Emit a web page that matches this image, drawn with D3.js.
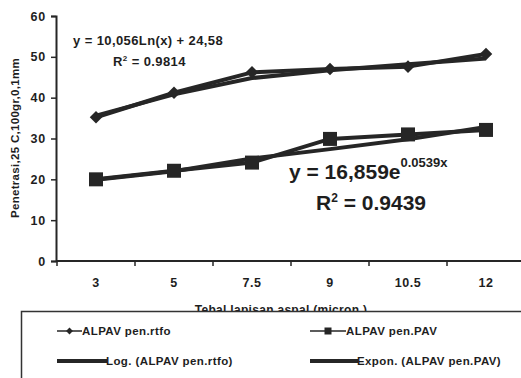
<!DOCTYPE html>
<html>
<head>
<meta charset="utf-8">
<script src="https://cdn.jsdelivr.net/npm/d3@7"></script>
<style>
  body { margin: 0; background: #fff; }
  svg text { font-family: "Liberation Sans", Arial, sans-serif; font-weight: bold; fill: #1e1e1e; }
</style>
</head>
<body>
<svg id="chart" width="521" height="378"></svg>
<script>
// values
var categories = ["3", "5", "7.5", "9", "10.5", "12"];
var penRtfo = [35.2, 41.2, 46.2, 47.0, 47.6, 50.7];
var penPav = [20.0, 22.1, 24.1, 29.9, 31.0, 32.1];
var logTrend = [35.6, 40.8, 44.8, 46.7, 48.2, 49.6];
var expTrend = [19.9, 22.0, 25.1, 27.4, 29.8, 32.8];
var yTicks = [0, 10, 20, 30, 40, 50, 60];

var logEq = "y = 10,056Ln(x) + 24,58";
var logR2 = "0.9814";
var expEq = "y = 16,859e";
var expExp = "0.0539x";
var expR2 = "0.9439";

var yTitle = "Penetrasi,25 C,100gr,0,1mm";
var xTitle = "Tebal lapisan aspal (micron )";
var legendNames = ["ALPAV pen.rtfo", "ALPAV pen.PAV", "Log. (ALPAV pen.rtfo)", "Expon. (ALPAV pen.PAV)"];

var ink = "#262626";
var svg = d3.select("#chart");

var x = d3.scaleBand().domain(categories).range([57, 525]);
var y = d3.scaleLinear().domain([0, 60]).range([261, 16]);
var cx = function (c) { return x(c) + x.bandwidth() / 2; };

// y axis
var yAxis = svg.append("g")
  .attr("transform", "translate(56,0)")
  .call(d3.axisLeft(y).tickValues(yTicks).tickSize(5).tickPadding(5));
yAxis.select(".domain").attr("stroke", ink).attr("stroke-width", 2);
yAxis.selectAll(".tick line").attr("stroke", ink).attr("stroke-width", 1.5);
yAxis.selectAll(".tick text").style("font-size", "12.5px").attr("letter-spacing", "0.8px").attr("fill", ink);

// x axis: ticks on category boundaries, labels at centres
var xg = svg.append("g");
xg.append("line")
  .attr("x1", 56).attr("x2", 521)
  .attr("y1", y(0)).attr("y2", y(0))
  .attr("stroke", ink).attr("stroke-width", 2);
xg.selectAll(".xt")
  .data(categories)
  .enter()
  .append("line")
  .attr("x1", (d) => x(d)).attr("x2", (d) => x(d))
  .attr("y1", y(0)).attr("y2", y(0) + 5)
  .attr("stroke", ink).attr("stroke-width", 1.5);
xg.selectAll(".xl")
  .data(categories)
  .enter()
  .append("text")
  .attr("x", (d) => cx(d))
  .attr("y", 287)
  .attr("text-anchor", "middle")
  .style("font-size", "12.5px")
  .attr("letter-spacing", "0.5px")
  .text((d) => d);

// axis titles
svg.append("text")
  .attr("transform", "translate(19,138) rotate(-90)")
  .attr("text-anchor", "middle")
  .style("font-size", "11.5px")
  .attr("letter-spacing", "0.3px")
  .text(yTitle);

svg.append("text")
  .attr("x", 281).attr("y", 314)
  .attr("text-anchor", "middle")
  .style("font-size", "12px")
  .attr("letter-spacing", "0.3px")
  .text(xTitle);

// lines
var line = function (vals) {
  return d3.line()
    .x((d, i) => cx(categories[i]))
    .y((d) => y(d))(vals);
};

var plot = svg.append("g");
[penRtfo, penPav, logTrend, expTrend].forEach(function (vals) {
  plot.append("path")
    .attr("d", line(vals))
    .attr("fill", "none")
    .attr("stroke", ink)
    .attr("stroke-width", 4)
    .attr("stroke-linejoin", "round");
});

// markers
plot.selectAll(".dia")
  .data(penRtfo)
  .enter()
  .append("path")
  .attr("d", d3.symbol(d3.symbolDiamond2, 100))
  .attr("transform", (d, i) => "translate(" + cx(categories[i]) + "," + y(d) + ")")
  .attr("fill", ink);

plot.selectAll(".sq")
  .data(penPav)
  .enter()
  .append("rect")
  .attr("x", (d, i) => cx(categories[i]) - 7)
  .attr("y", (d) => y(d) - 7)
  .attr("width", 14).attr("height", 14)
  .attr("fill", ink);

// trend annotations
svg.append("text").attr("x", 73).attr("y", 45).style("font-size", "13px").attr("letter-spacing", "0.4px").text(logEq);
var r1 = svg.append("text").attr("x", 113).attr("y", 66).style("font-size", "13px").attr("letter-spacing", "0.4px");
r1.append("tspan").text("R");
r1.append("tspan").attr("dy", -5).style("font-size", "8px").text("2");
r1.append("tspan").attr("dy", 5).text(" = " + logR2);

var e1 = svg.append("text").attr("x", 289).attr("y", 179).style("font-size", "21px");
e1.append("tspan").text(expEq);
e1.append("tspan").attr("dy", -12).style("font-size", "13px").text(expExp);
var r2 = svg.append("text").attr("x", 316).attr("y", 210).style("font-size", "21px");
r2.append("tspan").text("R");
r2.append("tspan").attr("dy", -8).style("font-size", "12px").text("2");
r2.append("tspan").attr("dy", 8).text(" = " + expR2);

// legend
var lg = svg.append("g");
lg.append("rect")
  .attr("x", 21.5).attr("y", 311.5)
  .attr("width", 520).attr("height", 90)
  .attr("fill", "#fff")
  .attr("stroke", "#333").attr("stroke-width", 1.5);

var legendItems = [
  { name: legendNames[0], x0: 57, x1: 82, y: 331, w: 1.5, mark: "diamond", tx: 82 },
  { name: legendNames[1], x0: 310, x1: 346, y: 331, w: 1.5, mark: "square", tx: 346 },
  { name: legendNames[2], x0: 57, x1: 107, y: 361, w: 4, mark: null, tx: 106 },
  { name: legendNames[3], x0: 310, x1: 358, y: 361, w: 4, mark: null, tx: 357 }
];
legendItems.forEach(function (d) {
  lg.append("line")
    .attr("x1", d.x0).attr("x2", d.x1)
    .attr("y1", d.y).attr("y2", d.y)
    .attr("stroke", ink).attr("stroke-width", d.w);
  if (d.mark == "diamond") {
    lg.append("path")
      .attr("d", d3.symbol(d3.symbolDiamond2, 30))
      .attr("transform", "translate(" + (d.x0 + d.x1) / 2 + "," + d.y + ")")
      .attr("fill", ink);
  }
  if (d.mark == "square") {
    lg.append("rect")
      .attr("x", (d.x0 + d.x1) / 2 - 3.5).attr("y", d.y - 3.5)
      .attr("width", 7).attr("height", 7)
      .attr("fill", ink);
  }
  lg.append("text")
    .attr("x", d.tx).attr("y", d.y + 4)
    .style("font-size", "11.5px")
    .attr("letter-spacing", "0.4px")
    .text(d.name);
});
</script>
</body>
</html>
